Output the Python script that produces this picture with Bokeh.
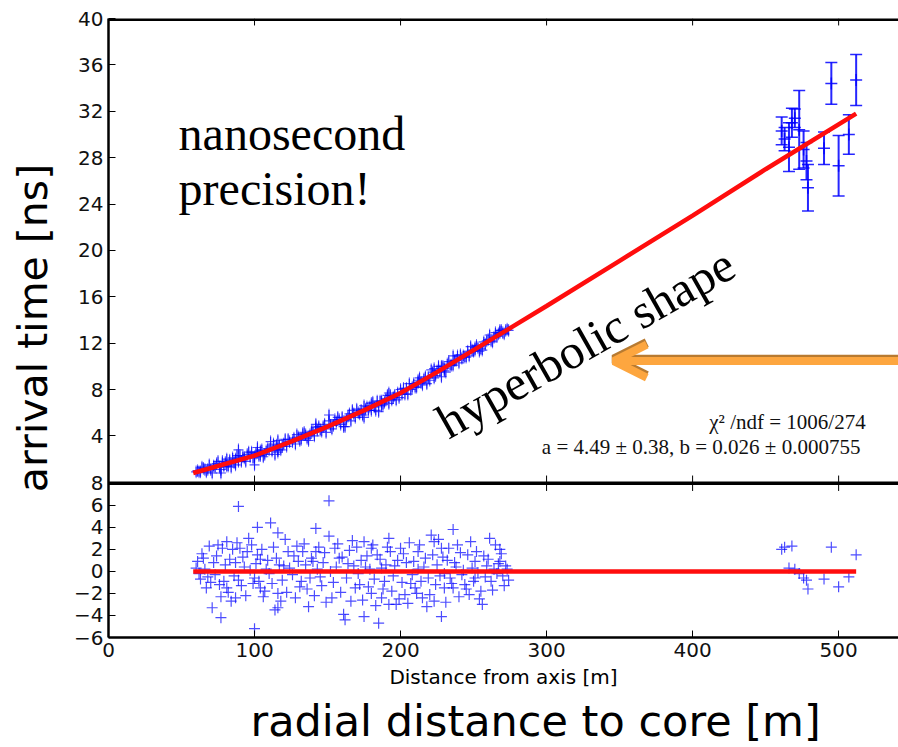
import numpy as np
from bokeh.plotting import figure
from bokeh.models import (Range1d, FixedTicker, Label, Span, Arrow, Title,
                          OpenHead, Whisker, TeeHead, ColumnDataSource)
from bokeh.embed import file_html
from bokeh.resources import INLINE

# ---------------- data ----------------
# stations close to the core: distance [m], arrival time [ns], residual
r_near = [60, 62, 65, 67, 68, 71, 72, 74, 76, 77, 77, 78, 81, 81, 84, 85, 87, 87, 89, 89,
          90, 93, 95, 96, 100, 100, 102, 102, 104, 104, 106, 108, 111, 114, 115, 116, 116, 116, 118, 120,
          123, 126, 129, 131, 133, 135, 137, 138, 140, 142, 142, 145, 148, 151, 151, 153, 155, 156, 158, 161,
          162, 164, 167, 169, 171, 173, 175, 175, 176, 180, 180, 182, 184, 185, 187, 187, 189, 192, 192, 193,
          195, 196, 197, 200, 201, 203, 204, 205, 206, 208, 210, 212, 212, 215, 217, 219, 220, 221, 223, 223,
          225, 228, 228, 230, 230, 232, 234, 236, 236, 238, 239, 242, 244, 246, 247, 249, 251, 251, 253, 255,
          256, 257, 259, 261, 262, 264, 268, 268, 270, 273]
t_near = [0.9, 0.9, 1.2, 0.9, 1.1, 0.8, 1.4, 1.6, 1.3, 1.1, 0.8, 1.8, 2.0, 1.4, 1.3, 2.1, 1.5, 2.0, 2.8, 1.8,
          2.3, 2.1, 2.4, 2.6, 2.2, 1.5, 3.0, 2.6, 2.7, 2.3, 2.2, 2.7, 3.5, 2.4, 3.2, 3.6, 2.8, 2.6, 2.8, 3.3,
          3.7, 3.5, 4.1, 3.6, 4.2, 4.1, 3.6, 4.1, 4.4, 5.0, 4.7, 4.5, 5.0, 5.8, 5.3, 4.6, 5.4, 5.2, 5.4, 4.8,
          4.8, 5.7, 6.2, 5.6, 6.0, 6.2, 6.6, 5.6, 6.3, 6.8, 6.2, 6.5, 7.0, 6.1, 6.6, 7.0, 6.9, 7.7, 6.8, 7.5,
          7.3, 7.5, 7.1, 8.0, 7.6, 7.6, 8.1, 7.6, 8.5, 8.2, 8.2, 8.8, 8.6, 8.4, 9.1, 9.0, 8.8, 9.7, 9.8, 9.0,
          9.6, 10.0, 9.1, 9.6, 9.8, 10.2, 10.1, 10.9, 10.1, 10.5, 10.9, 10.7, 10.8, 11.3, 10.9, 11.4, 11.6, 11.4, 11.6, 11.5,
          11.4, 12.1, 12.2, 12.7, 12.2, 12.5, 13.1, 12.9, 12.9, 13.2]
res_near = [0.3, -0.2, 1.2, -1.5, -0.5, -3.3, 0.8, 1.4, -1.2, -2.3, -4.2, 2.1, 2.7, -1.5, -2.7, 2.0, -2.4, 0.8, 5.9, -0.8,
            2.1, 0.4, 1.8, 3.0, -0.6, -5.2, 4.0, 1.5, 1.1, -1.5, -2.3, 0.2, 4.4, -3.5, 1.2, 3.5, -2.0, -3.3, -2.7, 0.5,
            1.8, -0.3, 2.3, -1.4, 1.8, 0.6, -3.2, -0.6, 0.9, 3.9, 1.8, -0.5, 1.7, 6.4, 3.2, -2.4, 2.1, 0.4, 1.2, -3.9,
            -4.4, 0.7, 2.8, -1.5, -0.2, 1.0, 2.7, -4.1, 0.4, 2.1, -2.0, -0.7, 1.5, -4.7, -2.4, 0.3, -0.9, 3.0, -3.0, 1.8,
            -0.4, 0.5, -3.0, 2.1, -1.0, -2.1, 0.8, -2.9, 2.6, -0.3, -1.5, 1.8, 0.2, -2.4, 1.2, -0.6, -2.1, 3.3, 2.7, -2.7,
            0.6, 2.1, -4.1, -1.5, -0.2, 1.0, -0.6, 3.8, -1.5, 0.4, 2.4, -0.3, -1.2, 1.5, -2.1, 0.3, 0.9, -0.6, -0.1, -1.8,
            -3.0, 1.4, 0.5, 3.0, -0.9, 0.2, 2.0, 0.9, -0.4, 0.2]

# more near stations (the band is dense)
r_near_b = [61, 63, 64, 66, 69, 70, 73, 75, 79, 80, 82, 83, 86, 88, 91, 92, 94, 97, 98, 99,
            101, 103, 105, 107, 109, 110, 112, 113, 117, 119, 121, 122, 124, 127, 128, 130, 132, 134, 136, 139,
            141, 143, 144, 146, 147, 149, 152, 154, 157, 159, 160, 163, 165, 166, 168, 170, 172, 174, 177, 178,
            179, 181, 183, 186, 188, 190, 191, 194, 198, 199, 202, 207, 209, 211, 213, 214, 216, 218, 222, 224,
            226, 227, 229, 231, 233, 235, 237, 240, 241, 243, 245, 248, 250, 252, 254, 258, 260, 263, 265, 266,
            267, 269, 271, 272, 274]
t_near_b = [1.0, 0.9, 1.3, 1.1, 1.5, 1.1, 1.3, 1.8, 1.4, 1.7, 1.4, 1.9, 1.7, 2.3, 1.8, 2.2, 1.8, 2.2, 2.6, 2.1,
            2.5, 2.3, 2.8, 2.4, 2.9, 2.8, 2.7, 3.3, 3.2, 3.1, 3.7, 3.1, 3.5, 3.8, 3.3, 3.9, 3.7, 4.3, 3.8, 4.4,
            4.0, 4.5, 4.8, 4.4, 4.8, 4.3, 4.9, 4.9, 5.6, 5.0, 5.6, 5.4, 5.9, 5.3, 5.9, 6.3, 5.9, 5.8, 6.5, 6.2,
            6.5, 6.9, 6.2, 7.0, 6.7, 7.2, 7.5, 7.1, 7.7, 7.3, 8.1, 8.0, 8.5, 8.2, 9.0, 8.6, 8.9, 8.5, 9.5, 9.2,
            10.0, 9.6, 10.0, 9.5, 10.4, 10.1, 10.5, 10.3, 11.0, 10.9, 10.8, 11.7, 11.3, 11.8, 11.3, 11.9, 12.3, 12.1, 12.9, 12.6,
            12.8, 13.1, 12.8, 13.1, 13.1]
res_near_b = [0.9, -0.7, 1.6, 0.2, 2.3, -1.0, -0.3, 2.4, -0.9, 0.6, -1.9, 1.1, -0.4, 2.6, -1.3, 1.3, -2.2, 0.1, 2.4, -1.1,
              0.7, -0.9, 2.0, -1.8, 1.0, -0.2, -1.1, 2.2, 0.6, -0.8, 2.9, -1.9, 0.3, 1.4, -2.4, 0.9, -0.9, 2.5, -1.6, 1.2,
              -2.2, 0.2, 2.2, -1.3, 0.8, -2.8, 0.0, -1.0, 2.5, -1.9, 1.3, -0.6, 1.9, -2.7, 0.5, 2.2, -1.2, -2.6, 1.4, -1.4,
              0.2, 2.4, -3.1, 1.1, -1.6, 0.6, 2.2, -1.8, 1.0, -2.5, 1.6, -1.1, 0.9, -2.0, 2.4, -0.9, 0.4, -3.2, 1.5, -1.2,
              2.9, -0.4, 1.3, -2.8, 2.1, -1.1, 0.8, -2.3, 1.7, 0.1, -1.6, 2.7, -0.9, 1.8, -2.5, -0.5, 1.1, -1.7, 2.4, -0.2,
              0.7, 1.6, -1.3, 0.5, -0.8]

# stations far from the core, with error bars
r_far = [461, 463, 466, 468, 470, 473, 476, 478, 479, 490, 495, 500, 507, 512]
t_far = [30.3, 29.6, 28.9, 31.0, 31.4, 30.4, 28.7, 27.7, 25.4, 28.8, 34.4, 27.3, 30.0, 34.7]
err_far = [1.2, 1.0, 2.1, 1.25, 0.8, 3.4, 1.6, 1.6, 2.0, 1.4, 1.8, 2.6, 1.7, 2.2]
res_far = [2.0, 2.2, 0.3, 2.3, 0.2, -0.2, -0.6, -0.8, -1.6, -0.7, 2.2, -1.4, -0.5, 1.5]

# fitted hyperbolic front
fit_r = [58, 75, 100, 125, 150, 175, 200, 225, 250, 275, 300, 350, 400, 450, 512]
fit_t = [0.8, 1.4, 2.3, 3.5, 4.8, 6.2, 7.7, 9.5, 11.4, 13.3, 15.2, 19.1, 23.0, 27.0, 31.8]

x_ticks = [0, 100, 200, 300, 400, 500]
y_ticks_top = [4, 8, 12, 16, 20, 24, 28, 32, 36, 40]
y_ticks_res = [-6, -4, -2, 0, 2, 4, 6, 8]
res_tick_labels = ["\u22126", "\u22124", "\u22122", "0", "2", "4", "6", "8"]

# ---------------- figure ----------------
Y0, Y1 = -13.39, 40.0     # arrival time axis (upper panel)
R0, R1 = -6.0, 50.18      # residual axis (lower panel)

p = figure(width=898, height=747, x_range=Range1d(0, 541), y_range=Range1d(Y0, Y1),
           output_backend="svg", toolbar_location=None,
           min_border_left=108, min_border_right=0, min_border_top=18, min_border_bottom=40)
p.extra_y_ranges = {"res": Range1d(R0, R1)}
p.grid.visible = False
p.outline_line_color = None
p.background_fill_color = "white"
p.border_fill_color = "white"

def to_main(v):
    return round(Y0 + (v - R0) / (R1 - R0) * (Y1 - Y0), 6)

mapped = [to_main(v) for v in y_ticks_res]
ya = p.yaxis[0]
ya.ticker = FixedTicker(ticks=y_ticks_top + mapped)
ya.major_label_overrides = {m: lab for m, lab in zip(mapped, res_tick_labels)}
ya.axis_label = "arrival time [ns]"
ya.axis_label_text_font = "DejaVu Sans"
ya.axis_label_text_font_size = "41px"
ya.axis_label_text_font_style = "normal"
ya.axis_label_text_color = "black"
ya.axis_label_standoff = 14

xa = p.xaxis[0]
xa.ticker = FixedTicker(ticks=x_ticks)
xa.axis_label = "Distance from axis [m]"
xa.axis_label_text_font = "DejaVu Sans"
xa.axis_label_text_font_size = "20px"
xa.axis_label_text_font_style = "normal"
xa.axis_label_text_color = "black"
xa.axis_label_standoff = 5

for ax in (xa, ya):
    ax.axis_line_width = 2.5
    ax.axis_line_color = "black"
    ax.major_tick_in = 7
    ax.major_tick_out = 0
    ax.major_tick_line_color = "black"
    ax.minor_tick_in = 0
    ax.minor_tick_out = 0
    ax.major_label_text_font = "DejaVu Sans"
    ax.major_label_text_font_size = "20px"
    ax.major_label_text_color = "#111111"
    ax.major_label_standoff = 5

# big caption below
p.add_layout(Title(text="radial distance to core [m]", align="left", offset=142,
                   text_font="DejaVu Sans", text_font_size="43px", text_font_style="normal",
                   text_color="black", standoff=4), "below")

# top border with inward ticks
p.add_layout(Span(location=Y1, dimension="width", line_color="black", line_width=5))
p.segment(x0=x_ticks[1:], y0=[Y1] * 5, x1=x_ticks[1:], y1=[Y1 - 0.6] * 5,
          line_color="black", line_width=1)

# separator between the panels
p.add_layout(Span(location=8, dimension="width", y_range_name="res",
                  line_color="black", line_width=3.5))
p.segment(x0=x_ticks[1:], y0=[8 - 0.7] * 5, x1=x_ticks[1:], y1=[8 + 0.7] * 5,
          y_range_name="res", line_color="black", line_width=1)

blue = "#0000ff"
r_all = r_near + r_near_b
t_all = t_near + t_near_b
res_all = res_near + res_near_b

# upper panel: near stations
p.segment(x0=r_all, y0=[t - 0.55 for t in t_all], x1=r_all, y1=[t + 0.55 for t in t_all],
          line_color=blue, line_alpha=0.6, line_width=1)
p.scatter(r_all, t_all, marker="cross", size=10, line_color=blue, line_alpha=0.7, line_width=1.2)

# upper panel: far stations with error bars
src = ColumnDataSource(dict(r=r_far, t=t_far,
                            lo=[t - e for t, e in zip(t_far, err_far)],
                            hi=[t + e for t, e in zip(t_far, err_far)]))
p.add_layout(Whisker(base="r", lower="lo", upper="hi", source=src, dimension="height",
                     line_color=blue, line_width=2, line_alpha=0.85,
                     upper_head=TeeHead(size=12, line_color=blue, line_width=1.5, line_alpha=0.85),
                     lower_head=TeeHead(size=12, line_color=blue, line_width=1.5, line_alpha=0.85)))
p.scatter("r", "t", source=src, marker="cross", size=12, line_color=blue, line_width=1.5, line_alpha=0.85)

# fit
p.line(fit_r, fit_t, line_color="#ff0d0d", line_width=4.5)

# lower panel: residuals
p.scatter(r_all + r_far, res_all + res_far, y_range_name="res", marker="cross", size=11,
          line_color=blue, line_alpha=0.7, line_width=1.2)
p.line([fit_r[0], fit_r[-1]], [0, 0], y_range_name="res", line_color="#ff0d0d", line_width=4.5)

# annotations
serif = "Liberation Serif"
p.add_layout(Label(x=48, y=30.06, text="nanosecond", text_font=serif, text_font_size="48px",
                   text_baseline="alphabetic", text_color="black"))
p.add_layout(Label(x=48, y=25.31, text="precision!", text_font=serif, text_font_size="48px",
                   text_baseline="alphabetic", text_color="black"))
p.add_layout(Label(x=227.5, y=4.9, text="hyperbolic shape", text_font=serif, text_font_size="49px",
                   text_baseline="alphabetic", angle=0.517, text_color="black"))
p.add_layout(Label(x=518.5, y=5.18, text="\u03c7\u00b2 /ndf = 1006/274", text_font=serif,
                   text_font_size="21px", text_align="right", text_baseline="alphabetic", text_color="#111111"))
p.add_layout(Label(x=518.5, y=3.02, text="a = 4.49 \u00b1 0.38,  b = 0.026 \u00b1 0.000755", text_font=serif,
                   text_font_size="21px", text_align="right", text_baseline="alphabetic", text_color="#111111"))

# orange arrow pointing at the curve
p.add_layout(Arrow(x_start=541, y_start=10.62, x_end=346, y_end=10.62, line_color="#b87a30", line_width=9,
                   end=OpenHead(size=33, line_color="#b87a30", line_width=9)))
p.add_layout(Arrow(x_start=541, y_start=10.45, x_end=346, y_end=10.45, line_color="#fda63f", line_width=8,
                   end=OpenHead(size=33, line_color="#fda63f", line_width=8)))

open("out.html", "w").write(file_html(p, INLINE))
